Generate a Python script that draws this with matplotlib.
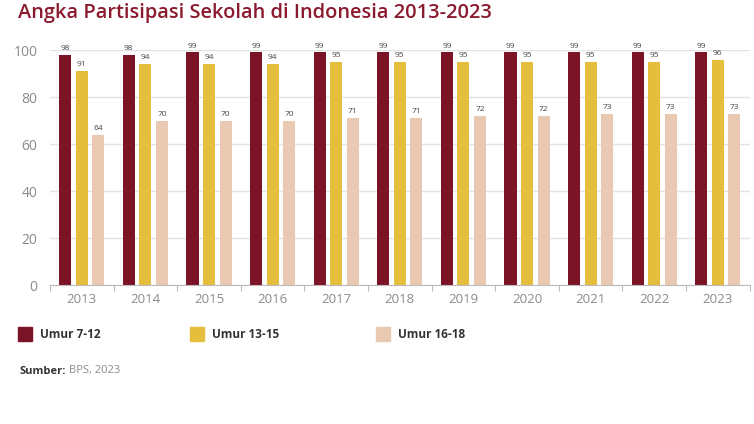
import numpy as np
import matplotlib
matplotlib.use("Agg")
import matplotlib.pyplot as plt
from matplotlib.patches import Rectangle

plt.rcParams['font.family'] = ['Open Sans', 'DejaVu Sans']

# data
years = ["2013", "2014", "2015", "2016", "2017", "2018", "2019", "2020", "2021", "2022", "2023"]
umur_7_12 = [98, 98, 99, 99, 99, 99, 99, 99, 99, 99, 99]
umur_13_15 = [91, 94, 94, 94, 95, 95, 95, 95, 95, 95, 96]
umur_16_18 = [64, 70, 70, 70, 71, 71, 72, 72, 73, 73, 73]
series_names = ["Umur 7-12", "Umur 13-15", "Umur 16-18"]
colors = ["#7a1426", "#e5be3d", "#e9c9b1"]

fig = plt.figure(figsize=(7.54, 4.24), dpi=100)
ax = fig.add_axes([0.0663, 0.3278, 0.928, 0.554])

x = np.arange(len(years))
w = 0.19
offs = [-0.26, 0.0, 0.26]
for vals, off, c in zip([umur_7_12, umur_13_15, umur_16_18], offs, colors):
    ax.bar(x + off, vals, width=w, color=c, zorder=2)
    for xi, v in zip(x, vals):
        ax.text(xi + off, v + 1.2, str(v), ha='center', va='bottom',
                fontsize=6, color='#444444', zorder=3)

ax.set_xlim(-0.5, len(years) - 0.5)
ax.set_ylim(0, 100)
ax.set_yticks([0, 20, 40, 60, 80, 100])
ax.set_xticks(x)
ax.set_xticklabels(years)
ax.set_xticks(np.arange(-0.5, len(years), 1.0), minor=True)
ax.tick_params(axis='x', which='major', length=0, pad=6, labelsize=9.5, labelcolor='#8a8a8a')
ax.tick_params(axis='x', which='minor', length=4, color='#bbbbbb', width=0.8)
ax.tick_params(axis='y', length=0, pad=9, labelsize=10, labelcolor='#8a8a8a')
ax.grid(axis='y', color='#e3e3e3', linewidth=1.0, zorder=0)
for s in ['top', 'right', 'left']:
    ax.spines[s].set_visible(False)
ax.spines['bottom'].set_color('#bbbbbb')
ax.spines['bottom'].set_zorder(4)
ax.set_axisbelow(True)

fig.text(18 / 754, 1 - 13 / 424, "Angka Partisipasi Sekolah di Indonesia 2013-2023",
         fontsize=14.4, fontweight='semibold', color='#8b1a2e', va='center', ha='left')

# legend
leg_x = [18, 190, 376]
for lx, name, c in zip(leg_x, series_names, colors):
    fig.patches.append(Rectangle((lx / 754, 1 - 341 / 424), 14 / 754, 14 / 424,
                                 transform=fig.transFigure, color=c))
    fig.text((lx + 22) / 754, 1 - 335 / 424, name, fontsize=8.5, fontweight='bold',
             color='#333333', va='center', ha='left')

t = fig.text(20 / 754, 1 - 371 / 424, "Sumber:", fontsize=8, fontweight='bold',
             color='#333333', va='center', ha='left')
fig.canvas.draw()
bb = t.get_window_extent()
fig.text((bb.x1 + 3) / 754, 1 - 371 / 424, "BPS, 2023", fontsize=8,
         color='#8a8a8a', va='center', ha='left')

fig.savefig("out.png", dpi=100, facecolor='white')
